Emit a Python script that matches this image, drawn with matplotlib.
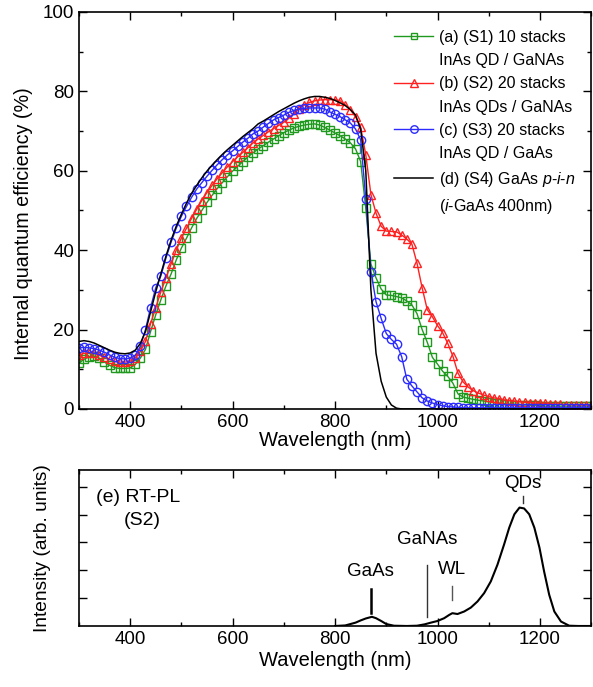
import numpy as np
import matplotlib
matplotlib.use("Agg")
import matplotlib.pyplot as plt
from matplotlib.ticker import MultipleLocator, NullFormatter, FixedLocator

plt.rcParams['font.family'] = ['Liberation Sans', 'DejaVu Sans']
plt.rcParams['mathtext.fontset'] = 'custom'
plt.rcParams['mathtext.it'] = 'Liberation Sans:italic'
plt.rcParams['mathtext.rm'] = 'Liberation Sans'

# ---------------- data ----------------
wavelength = np.arange(300, 1301, 10)

s1_10stacks_gananas = [
    11.5, 12.5, 13.2, 13.3, 12.8, 11.8, 11.0, 10.4, 10.2, 10.2,
    10.3, 11.2, 12.8, 15.0, 19.5, 23.7, 27.5, 31.0, 34.0, 37.5,
    40.5, 43.0, 45.6, 48.0, 50.0, 52.0, 53.8, 55.5, 57.0, 58.5,
    59.9, 61.1, 62.3, 63.5, 64.5, 65.5, 66.3, 67.2, 68.0, 68.8,
    69.6, 70.2, 70.8, 71.2, 71.5, 71.7, 71.8, 71.5, 70.9, 70.2,
    69.5, 68.8, 68.0, 67.0, 65.5, 62.3, 50.5, 36.5, 33.0, 30.2,
    28.7, 28.6, 28.3, 28.0, 27.2, 26.2, 24.0, 20.0, 16.8, 13.0,
    11.3, 9.5, 8.2, 6.5, 3.8, 3.0, 2.7, 2.4, 2.2, 2.0,
    1.8, 1.6, 1.5, 1.3, 1.2, 1.1, 1.0, 1.0, 0.9, 0.9,
    0.8, 0.7, 0.7, 0.7, 0.7, 0.7, 0.7, 0.7, 0.7, 0.7, 0.7]

s2_20stacks_gananas = [
    13.5, 14.0, 14.2, 14.0, 13.5, 13.0, 12.5, 12.0, 11.8, 11.8,
    12.0, 12.8, 14.5, 17.0, 21.5, 25.5, 29.5, 33.0, 36.5, 40.0,
    43.0, 45.5, 48.0, 50.3, 52.5, 54.5, 56.3, 58.0, 59.5, 61.0,
    62.3, 63.5, 64.6, 65.8, 67.0, 68.0, 68.9, 69.8, 70.6, 71.4,
    72.2, 73.2, 74.4, 75.6, 76.5, 77.2, 77.6, 77.8, 77.9, 77.9,
    77.9, 77.6, 76.6, 75.3, 73.6, 71.0, 64.0, 54.0, 49.3, 46.0,
    44.8, 44.7, 44.6, 43.8, 42.8, 41.5, 36.7, 30.5, 25.0, 23.2,
    21.0, 19.2, 16.5, 13.3, 9.0, 6.8, 5.5, 4.6, 4.0, 3.5,
    3.1, 2.8, 2.6, 2.3, 2.1, 2.0, 1.8, 1.7, 1.6, 1.5,
    1.5, 1.4, 1.3, 1.2, 1.2, 1.1, 1.1, 1.0, 1.0, 1.0, 1.0]

s3_20stacks_gaas = [
    15.4, 15.5, 15.4, 15.2, 14.8, 14.3, 13.6, 13.0, 12.7, 12.6,
    12.8, 13.5, 15.8, 20.0, 25.5, 30.5, 33.5, 38.0, 42.0, 45.5,
    48.5, 51.0, 53.3, 55.4, 57.0, 58.6, 60.1, 61.5, 62.8, 64.0,
    65.0, 66.1, 67.2, 68.2, 69.3, 70.0, 71.0, 71.9, 72.8, 73.4,
    74.0, 74.7, 75.2, 75.5, 75.7, 75.8, 75.8, 75.8, 75.5, 74.8,
    74.2, 73.6, 72.8, 72.0, 70.5, 67.8, 53.0, 34.6, 27.0, 22.8,
    19.0, 17.5, 16.3, 13.2, 7.5, 5.8, 4.3, 2.8, 2.0, 1.5,
    1.1, 0.8, 0.6, 0.5, 0.4, 0.3, 0.3, 0.3, 0.3, 0.3,
    0.3, 0.3, 0.3, 0.3, 0.3, 0.3, 0.3, 0.3, 0.3, 0.3,
    0.3, 0.3, 0.3, 0.3, 0.3, 0.3, 0.3, 0.3, 0.3, 0.3, 0.3]

s4_gaas_pin = [
    17.0, 17.2, 17.0, 16.6, 16.0, 15.4, 14.8, 14.3, 14.0, 13.9,
    14.1, 14.8, 16.5, 19.5, 24.5, 29.5, 34.0, 38.5, 42.5, 46.0,
    49.0, 51.8, 54.3, 56.3, 58.2, 59.9, 61.4, 62.8, 64.1, 65.3,
    66.4, 67.5, 68.6, 69.6, 70.6, 71.8, 72.5, 73.3, 74.1, 74.9,
    75.6, 76.3, 77.0, 77.6, 78.1, 78.5, 78.7, 78.7, 78.5, 78.2,
    77.7, 77.1, 76.4, 75.4, 74.0, 70.5, 60.0, 30.0, 14.0, 7.0,
    3.0, 1.0, 0.2, 0.0, 0.0, 0.0, 0.0, 0.0, 0.0, 0.0,
    0.0, 0.0, 0.0, 0.0, 0.0, 0.0, 0.0, 0.0, 0.0, 0.0,
    0.0, 0.0, 0.0, 0.0, 0.0, 0.0, 0.0, 0.0, 0.0, 0.0,
    0.0, 0.0, 0.0, 0.0, 0.0, 0.0, 0.0, 0.0, 0.0, 0.0, 0.0]

pl_wavelength = [800, 820, 840, 850, 860, 872, 880, 890, 900, 915, 940, 960,
                 975, 987, 1000, 1013, 1023, 1029, 1039, 1052, 1065, 1078,
                 1091, 1104, 1117, 1130, 1140, 1150, 1160, 1169, 1179, 1189,
                 1199, 1208, 1218, 1228, 1241, 1257, 1275, 1300]
pl_intensity = [0, 0.02, 0.12, 0.2, 0.27, 0.33, 0.28, 0.18, 0.07, 0.01, 0, 0.01,
                0.06, 0.12, 0.18, 0.28, 0.40, 0.46, 0.43, 0.52, 0.66, 0.88,
                1.18, 1.60, 2.20, 2.93, 3.53, 4.01, 4.25, 4.22, 4.01, 3.53,
                2.81, 1.96, 1.12, 0.52, 0.16, 0.01, 0, 0]

legend_labels = [
    ("(a) (S1) 10 stacks", "InAs QD / GaNAs"),
    ("(b) (S2) 20 stacks", "InAs QDs / GaNAs"),
    ("(c) (S3) 20 stacks", "InAs QD / GaAs"),
    ("(d) (S4) GaAs $p$-$i$-$n$", "($i$-GaAs 400nm)"),
]

# peak markers: (label, x, text_y, line_y0, line_y1, lw, colour)
pl_marks = [
    ("GaAs", 870, 1.94, 0.45, 1.31, 1.8, 'black'),
    ("GaNAs", 979, 3.10, 0.34, 2.20, 1.0, '#333333'),
    ("WL", 1028, 2.02, 0.94, 1.42, 1.0, '#555555'),
    ("QDs", 1167, 5.10, 4.43, 4.67, 1.0, '#333333'),
]

# ---------------- figure ----------------
fig = plt.figure(figsize=(5.93, 6.87), dpi=100)
ax1 = fig.add_axes([0.133, 0.4047, 0.864, 0.578])
ax2 = fig.add_axes([0.133, 0.0888, 0.864, 0.2271])

green = '#1f9a1f'
red = '#ff2020'
blue = '#2b2bff'

l1, = ax1.plot(wavelength, s1_10stacks_gananas, color=green, lw=1.0, marker='s',
               ms=5.4, mfc='none', mec=green, mew=1.0)
l2, = ax1.plot(wavelength, s2_20stacks_gananas, color=red, lw=1.0, marker='^',
               ms=6.2, mfc='none', mec=red, mew=1.0)
l3, = ax1.plot(wavelength, s3_20stacks_gaas, color=blue, lw=1.0, marker='o',
               ms=6.0, mfc='none', mec=blue, mew=1.0)
l4, = ax1.plot(wavelength, s4_gaas_pin, color='black', lw=1.1)

blank = matplotlib.lines.Line2D([], [], linestyle='none')
handles, labels = [], []
for h, (a, b) in zip([l1, l2, l3, l4], legend_labels):
    handles += [h, blank]
    labels += [a, b]
ax1.legend(handles, labels, loc='upper left', bbox_to_anchor=(0.616, 0.955),
           frameon=False, fontsize=11.5, handlelength=2.4, handletextpad=0.4,
           labelspacing=0.52, borderpad=0, borderaxespad=0, markerscale=0.9)

ax1.set_xlim(300, 1300)
ax1.set_ylim(0, 100)
ax1.xaxis.set_major_locator(FixedLocator([400, 600, 800, 1000, 1200]))
ax1.xaxis.set_minor_locator(MultipleLocator(100))
ax1.yaxis.set_major_locator(MultipleLocator(20))
ax1.yaxis.set_minor_locator(MultipleLocator(10))
ax1.set_xlabel("Wavelength (nm)", fontsize=14.5, labelpad=0)
ax1.set_ylabel("Internal quantum efficiency (%)", fontsize=14.2)
ax1.yaxis.set_label_coords(-0.090, 0.466)

ax2.plot(pl_wavelength, pl_intensity, color='black', lw=1.5)
for name, x, ty, y0, y1, lw, c in pl_marks:
    ax2.plot([x, x], [y0, y1], color=c, lw=lw)
    ax2.text(x, ty, name, ha='center', va='center', fontsize=13.5)
ax2.text(334, 4.62, "(e) RT-PL", ha='left', va='center', fontsize=14)
ax2.text(388, 3.80, "(S2)", ha='left', va='center', fontsize=14)

ax2.set_xlim(300, 1300)
ax2.set_ylim(0, 5.6)
ax2.xaxis.set_major_locator(FixedLocator([400, 600, 800, 1000, 1200]))
ax2.xaxis.set_minor_locator(MultipleLocator(100))
ax2.yaxis.set_major_locator(FixedLocator([1, 2, 3, 4, 5]))
ax2.yaxis.set_major_formatter(NullFormatter())
ax2.set_xlabel("Wavelength (nm)", fontsize=14.5, labelpad=2)
ax2.set_ylabel("Intensity (arb. units)", fontsize=13.8)
ax2.yaxis.set_label_coords(-0.054, 0.5)

for ax in (ax1, ax2):
    ax.tick_params(which='both', direction='in', top=True, right=True,
                   labelsize=13.5, width=1.0)
    ax.tick_params(which='major', length=6)
    ax.tick_params(which='minor', length=3)
    for s in ax.spines.values():
        s.set_linewidth(1.2)

fig.savefig("out.png", dpi=100)
